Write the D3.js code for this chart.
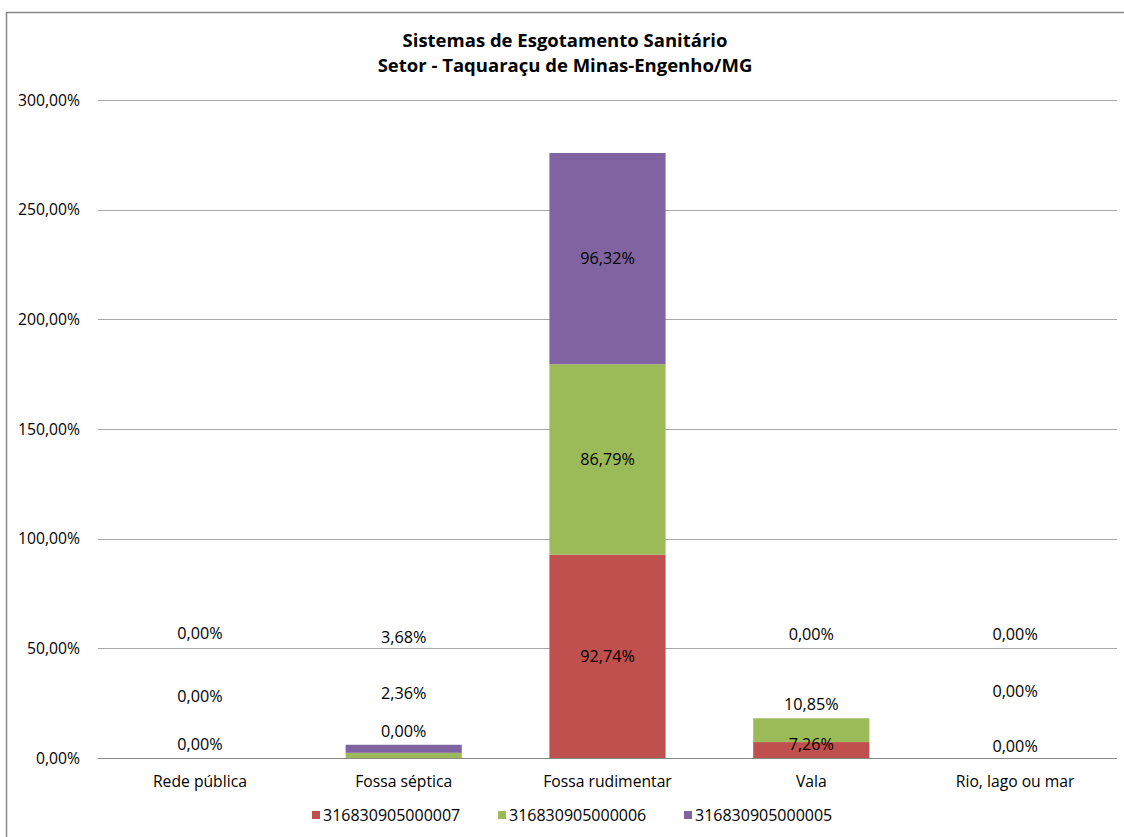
<!DOCTYPE html>
<html>
<head>
<meta charset="utf-8">
<script src="https://cdn.jsdelivr.net/npm/d3@7"></script>
<style>
  html, body { margin: 0; padding: 0; background: #fff; }
  svg { display: block; font-family: "Open Sans", "Noto Sans", sans-serif; }
</style>
</head>
<body>
<svg id="chart" width="1124" height="837"></svg>
<script>
// Sewage systems by census sector (percent of households)
const categories = ["Rede pública", "Fossa séptica", "Fossa rudimentar", "Vala", "Rio, lago ou mar"];
const seriesNames = ["316830905000007", "316830905000006", "316830905000005"];
const sector07 = [0.00, 0.00, 92.74, 7.26, 0.00];
const sector06 = [0.00, 2.36, 86.79, 10.85, 0.00];
const sector05 = [0.00, 3.68, 96.32, 0.00, 0.00];
const yTicks = [0, 50, 100, 150, 200, 250, 300];
const colors = ["#C0504D", "#9BBB59", "#8064A2"];

// Where segments are too thin, labels are lifted above the baseline (px) so they don't collide
const labelLift = [[14, 62, 125], [27, 65, 121], null, [14, 54, 124], [12, 67, 124]];

const svg = d3.select("#chart");
const W = 1124, H = 837;
const plot = { left: 98, right: 1117, top: 100, bottom: 758 };
const FONT = "Open Sans, Noto Sans, sans-serif";

const fmt = v => d3.format(".2f")(v).replace(".", ",") + "%";

// outer frame
svg.append("rect")
  .attr("x", 6.5).attr("y", 12.5)
  .attr("width", W + 20).attr("height", H + 20)
  .attr("fill", "#fff").attr("stroke", "#868686").attr("stroke-width", 1.5);

// title
const title = svg.append("text")
  .attr("x", 565).attr("text-anchor", "middle")
  .attr("font-weight", "bold").attr("font-size", 18.5).attr("fill", "#000");
title.append("tspan").attr("x", 565).attr("y", 47).text("Sistemas de Esgotamento Sanitário");
title.append("tspan").attr("x", 565).attr("y", 72).text("Setor - Taquaraçu de Minas-Engenho/MG");

const x = d3.scaleBand().domain(categories).range([plot.left, plot.right]).paddingInner(0.43).paddingOuter(0.215);
const y = d3.scaleLinear().domain([0, 300]).range([plot.bottom, plot.top]);

// gridlines
svg.append("g").selectAll("line").data(yTicks).join("line")
  .attr("x1", plot.left).attr("x2", plot.right)
  .attr("y1", d => Math.round(y(d)) + 0.5).attr("y2", d => Math.round(y(d)) + 0.5)
  .attr("stroke", d => d === 0 ? "#868686" : "#a6a6a6").attr("stroke-width", 1);

// y axis labels
const yAxis = d3.axisLeft(y).tickValues(yTicks).tickSize(0).tickPadding(0)
  .tickFormat(d => fmt(d));
svg.append("g").attr("transform", "translate(80,0)").call(yAxis)
  .call(g => g.select(".domain").remove())
  .call(g => g.selectAll("text").attr("font-size", 15.7).attr("fill", "#000").attr("font-family", FONT));

// stacked data
const rows = categories.map((c, i) => ({ cat: c, s0: sector07[i], s1: sector06[i], s2: sector05[i] }));
const stack = d3.stack().keys(["s0", "s1", "s2"])(rows);

const gBars = svg.append("g");
stack.forEach((layer, si) => {
  gBars.selectAll(null).data(layer).join("rect")
    .attr("x", d => x(d.data.cat))
    .attr("width", x.bandwidth())
    .attr("y", d => y(d[1]))
    .attr("height", d => y(d[0]) - y(d[1]))
    .attr("fill", colors[si]);
});

// value labels
const gLabels = svg.append("g").attr("font-size", 16.2).attr("fill", "#000").attr("text-anchor", "middle");
stack.forEach((layer, si) => {
  layer.forEach((d, ci) => {
    const lift = labelLift[ci];
    const cy = lift ? y(0) - lift[si] : (y(d[0]) + y(d[1])) / 2;
    gLabels.append("text")
      .attr("x", x(d.data.cat) + x.bandwidth() / 2)
      .attr("y", cy).attr("dy", "0.35em")
      .text(fmt(d.data[layer.key]));
  });
});

// category axis labels
const xAxis = d3.axisBottom(x).tickSize(0).tickPadding(0);
svg.append("g").attr("transform", `translate(0,${plot.bottom + 29})`).call(xAxis)
  .call(g => g.select(".domain").remove())
  .call(g => g.selectAll("text").attr("font-size", 15.7).attr("fill", "#000").attr("dy", "0").attr("font-family", FONT));

// legend
const legendX = [312, 498, 684];
const gLeg = svg.append("g");
seriesNames.forEach((n, i) => {
  gLeg.append("rect").attr("x", legendX[i]).attr("y", 811).attr("width", 8).attr("height", 8).attr("fill", colors[i]);
  gLeg.append("text").attr("x", legendX[i] + 11).attr("y", 815).attr("dy", "0.35em")
    .attr("font-size", 16).attr("fill", "#000").text(n);
});
</script>
</body>
</html>
